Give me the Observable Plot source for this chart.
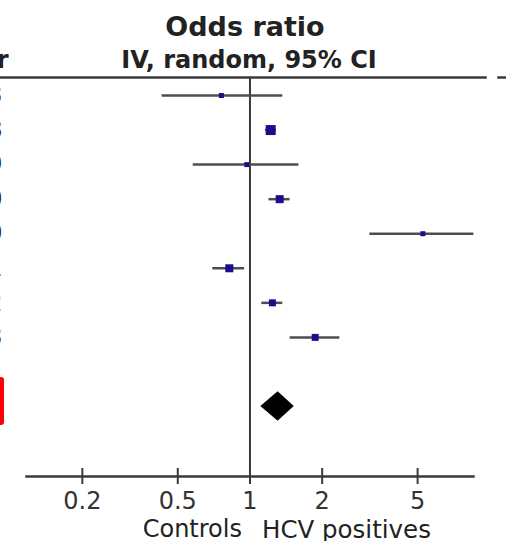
<!DOCTYPE html>
<html><head><meta charset="utf-8">
<script src="https://cdn.jsdelivr.net/npm/d3@7"></script>
<script src="https://cdn.jsdelivr.net/npm/@observablehq/plot@0.6"></script>
<style>
body{margin:0;background:#fff;}
#wrap{position:relative;width:506px;height:541px;overflow:hidden;}
#box{position:absolute;left:-20px;top:377px;width:24px;height:48px;box-sizing:border-box;border:4px solid #ff0000;border-radius:3px;}
</style></head><body><div id="wrap"><div id="chart"></div><div id="box"></div></div>
<script>
// ---- data ----
const studyRows   = [1, 2, 3, 4, 5, 6, 7, 8];
const studyYears  = ["2003", "2008", "2009", "2010", "2010", "2011", "2012", "2013"];
const oddsRatio   = [0.76, 1.22, 0.97, 1.33, 5.26, 0.82, 1.24, 1.87];
const ciLower     = [0.43, 1.16, 0.58, 1.20, 3.16, 0.70, 1.12, 1.47];
const ciUpper     = [1.37, 1.29, 1.60, 1.47, 8.58, 0.95, 1.37, 2.37];
const weightPct   = [6.2, 24.9, 6.2, 16.0, 6.2, 16.0, 12.2, 12.2];
const totalRow    = 10;
const totalOR     = [1.31];
const totalLower  = [1.11];
const totalUpper  = [1.53];
const xTicks      = [0.2, 0.5, 1, 2, 5];
const xTickLabels = ["0.2", "0.5", "1", "2", "5"];
const titleText   = "Odds ratio";
const subtitleText= "IV, random, 95% CI";
const yearHeader  = "Year";
const favoursLeft = "Controls";
const favoursRight= "HCV positives";

// ---- tables built from the arrays ----
const studies = studyRows.map((r, i) => ({row: r, year: studyYears[i], or: oddsRatio[i], lo: ciLower[i], hi: ciUpper[i], w: weightPct[i]}));
const ticks = xTicks.map((v, i) => ({v, label: xTickLabels[i]}));
const halfH = 0.43; // diamond half-height in rows
const diamond = [
  {y: totalRow - halfH, x1: totalOR[0], x2: totalOR[0]},
  {y: totalRow, x1: totalLower[0], x2: totalUpper[0]},
  {y: totalRow + halfH, x1: totalOR[0], x2: totalOR[0]}
];

const ink = "#3a3a3a";
const chart = Plot.plot({
  width: 506, height: 541,
  marginLeft: 26, marginRight: 33, marginTop: 77, marginBottom: 65,
  style: {fontFamily: "DejaVu Sans", background: "#fff", overflow: "visible"},
  x: {type: "log", domain: [0.117, 8.55], axis: null},
  y: {domain: [1, totalRow], reverse: true, insetTop: 18, insetBottom: 70, axis: null},
  r: {type: "sqrt", domain: [0, 24.9], range: [0, 5.64]},
  marks: [
    Plot.frame({anchor: "top", insetLeft: -26, insetRight: -12, stroke: ink, strokeWidth: 2.5}),
    Plot.frame({anchor: "top", insetLeft: 472, insetRight: -33, stroke: ink, strokeWidth: 2.5}),
    Plot.frame({anchor: "bottom", stroke: ink, strokeWidth: 2.5}),
    Plot.ruleX([1], {stroke: ink, strokeWidth: 2}),
    Plot.tickX(ticks, {x: "v", insetTop: 391, insetBottom: -8, stroke: ink, strokeWidth: 2}),
    Plot.text(ticks, {x: "v", text: "label", frameAnchor: "bottom", lineAnchor: "top", dy: 15, fontSize: 24, fill: "#333"}),
    Plot.ruleY(studies, {y: "row", x1: "lo", x2: "hi", stroke: "#4e4e4e", strokeWidth: 2.5}),
    Plot.dot(studies, {x: "or", y: "row", r: "w", symbol: "square", fill: "#1a0e8e", stroke: null}),
    Plot.areaX(diamond, {y: "y", x1: "x1", x2: "x2", fill: "#000", curve: "linear"}),
    Plot.text(studies, {y: "row", text: "year", frameAnchor: "left", textAnchor: "end", dx: -24, fontSize: 24, fill: "#222"}),
    Plot.text([yearHeader], {frameAnchor: "top-left", lineAnchor: "middle", textAnchor: "end", dx: -18, dy: -16.7, fontSize: 24, fontWeight: "bold", fill: "#222"}),
    Plot.text([titleText], {frameAnchor: "top", lineAnchor: "middle", dx: -5, dy: -50.6, fontSize: 27, fontWeight: "bold", fill: "#222"}),
    Plot.text([subtitleText], {frameAnchor: "top", lineAnchor: "middle", dx: -1, dy: -16.7, fontSize: 24, fontWeight: "bold", fill: "#222"}),
    Plot.text([favoursLeft], {x: () => 1, frameAnchor: "bottom", lineAnchor: "middle", textAnchor: "end", dx: -8, dy: 53.3, fontSize: 24, fill: "#222"}),
    Plot.text([favoursRight], {x: () => 1, frameAnchor: "bottom", lineAnchor: "middle", textAnchor: "start", dx: 12, dy: 53.3, fontSize: 24.5, fill: "#222"})
  ]
});
document.getElementById("chart").append(chart);
</script></body></html>
